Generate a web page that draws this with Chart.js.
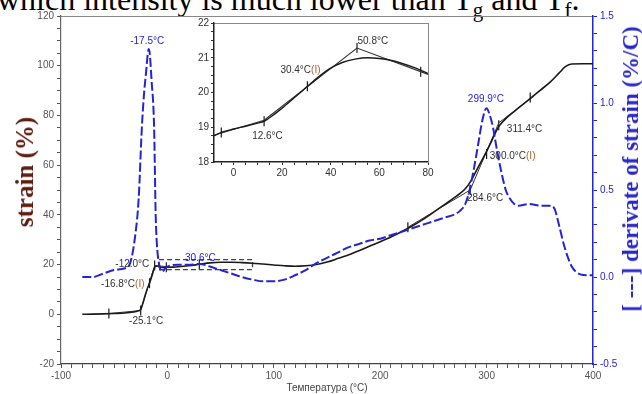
<!DOCTYPE html>
<html>
<head>
<meta charset="utf-8">
<script src="https://cdn.jsdelivr.net/npm/chart.js@4/dist/chart.umd.min.js"></script>
<style>
  html, body { margin: 0; padding: 0; background: #fff; }
  #wrap { position: relative; width: 642px; height: 394px; overflow: hidden; }
  #main { position: absolute; left: 0; top: 0; }
  #inset { position: absolute; left: 190px; top: 10px; }
  .cap { position: absolute; left: -3px; top: -19px; font-family: "Liberation Serif"; font-size: 32px; line-height: 36px; white-space: nowrap; color: #000; }
  .cap sub { font-size: 21px; line-height: 0; }
  .vt { position: absolute; font-family: "Liberation Serif"; font-weight: bold; white-space: nowrap; transform: translate(-50%, -50%) rotate(-90deg); }
</style>
</head>
<body>
<div id="wrap">
  <div class="cap">which intensity is much lower than T<sub>g</sub> and T<sub>f</sub>.</div>
  <canvas id="main" width="642" height="394"></canvas>
  <canvas id="inset" width="250" height="175"></canvas>
  <div class="vt" style="left:25px; top:172px; font-size:25px; color:#5c1d12;">strain (%)</div>
  <div class="vt" style="left:631px; top:169px; font-size:23px; color:#2828c8;">[ ---] derivate of strain (%/C)</div>
</div>
<script>
// strain curve (left axis)
const tempStrain = [-80, -70, -60, -50, -40, -32, -28, -25.1, -23, -21, -19, -16.8, -14.5, -12.5, -11, -9, -6, -3, 0,
  10, 20, 30, 40, 50, 60, 70, 80, 90, 100, 110, 120, 130, 140, 150, 160, 170, 180, 190, 200,
  210, 220, 230, 240, 250, 260, 270, 280, 285, 290, 295, 300, 305, 311.4, 320, 330, 340, 350, 360, 368, 374, 380, 390, 400];
const strain = [0, 0.05, 0.15, 0.3, 0.5, 0.9, 1.3, 2.0, 4.5, 7.5, 10.2, 12.5, 15.5, 18.3, 19.3, 19.4, 18.9, 18.8, 18.9,
  19.1, 19.5, 20.1, 20.7, 20.95, 20.95, 20.8, 20.55, 20.2, 19.85, 19.5, 19.3, 19.5, 20.0, 21.0, 22.4, 23.9, 25.6, 27.4, 29.2,
  31.1, 33.2, 35.5, 38.1, 41.0, 44.0, 47.0, 50.5, 53.5, 57.5, 61.5, 65.5, 70.0, 75.5, 79.5, 83.0, 86.5, 90.0, 93.5, 97.0, 99.6, 100.7, 100.8, 100.8];

// derivative curve (right axis)
const tempDeriv = [-80, -70, -60, -50, -40, -35, -30, -27, -24, -22, -20, -18.5, -17.5, -16.5, -15, -12.5, -11, -10, -8, -5, -2, 0,
  10, 20, 30, 40, 50, 60, 70, 80, 90, 100, 110, 120, 130, 140, 150, 160, 170, 180, 190, 200,
  210, 220, 230, 240, 250, 260, 270, 275, 280, 284, 288, 292, 296, 299.9, 303, 306, 310, 314, 318, 322, 326, 330,
  340, 350, 360, 364, 368, 372, 376, 380, 384, 388, 395, 400];
const deriv = [0.0, 0.0, 0.02, 0.04, 0.05, 0.08, 0.25, 0.45, 0.86, 1.05, 1.18, 1.28, 1.31, 1.28, 1.14, 0.86, 0.35, 0.2, 0.08, 0.03, 0.05, 0.06,
  0.07, 0.07, 0.075, 0.06, 0.04, 0.02, 0.0, -0.015, -0.025, -0.025, -0.015, 0.01, 0.04, 0.08, 0.11, 0.14, 0.17, 0.19, 0.21, 0.22,
  0.24, 0.26, 0.28, 0.3, 0.32, 0.34, 0.36, 0.38, 0.42, 0.5, 0.62, 0.76, 0.9, 0.97, 0.93, 0.86, 0.72, 0.6, 0.5, 0.45, 0.42, 0.41,
  0.42, 0.41, 0.41, 0.39, 0.3, 0.2, 0.12, 0.06, 0.03, 0.015, 0.01, 0.01];

// tangent construction lines
const tanLowT = [-55, -25.1, -12, -1];
const tanLowV = [0.3, 1.5, 19.6, 19.2];
const tanHighT = [226, 284.6, 311.4, 345];
const tanHighV = [35, 50, 77, 88];

// tick marks on the strain curve
const markT = [-55, -25.1, -16.8, -12, -1, 30, 226, 284.6, 300, 311.4, 341];
const markV = [0.3, 1.5, 12.5, 19.6, 18.9, 20.1, 35, 50, 64.5, 76, 87.2];

// zoom box shown in the inset
const boxT = [-8, 80, 80, -8, -8];
const boxV = [18, 18, 22, 22, 18];

// inset: strain between -8 and 80 °C
const insetT = [-8, -5, 0, 5, 10, 12.6, 15, 20, 25, 30, 35, 40, 45, 50, 55, 60, 65, 70, 75, 80];
const insetStrain = [18.75, 18.85, 18.95, 19.03, 19.12, 19.17, 19.28, 19.55, 19.85, 20.15, 20.45, 20.7, 20.87, 20.96, 21.0, 20.98, 20.92, 20.82, 20.7, 20.55];
const insetTanT = [-8, 12.6, 50.8, 80];
const insetTanV = [18.77, 19.2, 21.28, 20.52];
const insetMarkT = [-5, 12.6, 30.4, 50.8, 77];
const insetMarkV = [18.85, 19.17, 20.18, 21.28, 20.6];

// tick labels
const tempTicks = [-100, 0, 100, 200, 300, 400];
const strainTicks = [-20, 0, 20, 40, 60, 80, 100, 120];
const derivTicks = [-0.5, 0.0, 0.5, 1.0, 1.5];
const insetTempTicks = [0, 20, 40, 60, 80];
const insetStrainTicks = [18, 19, 20, 21, 22];

// temperature notes
const noteText = ['-17.5°C', '-12.0°C', '-16.8°C(I)', '-25.1°C', '30.6°C', '299.9°C', '311.4°C', '300.0°C(I)', '284.6°C'];
const noteT = [-19, -17, -21.5, -20, 31, 299.4, 319, 303, 281.5];
const noteV = [110, 20.2, 12.1, -3, 22.6, 86.4, 74.3, 63.4, 46.8];
const insetNoteText = ['12.6°C', '30.4°C(I)', '50.8°C'];
const insetNoteT = [14, 19.3, 51];
const insetNoteV = [18.75, 20.65, 21.48];

const BLUE = '#2424d6';
const INK = '#1a1a1a';
Chart.defaults.font.family = 'Liberation Sans';
Chart.defaults.font.size = 10;

const pts = (xs, ys) => xs.map((x, i) => ({x: x, y: ys[i]}));
const only = (list, fmt) => (v) => {
  const m = list.find(k => Math.abs(k - v) < 1e-6);
  return m === undefined ? '' : fmt(m);
};

function notes(id, xId, yId, texts, xs, ys, colors, aligns) {
  return {
    id: id,
    afterDatasetsDraw(chart) {
      const ctx = chart.ctx;
      const sx = chart.scales[xId], sy = chart.scales[yId];
      ctx.save();
      ctx.font = '10px "Liberation Sans"';
      ctx.textBaseline = 'middle';
      texts.forEach((t, i) => {
        const base = t.endsWith('(I)') ? t.slice(0, -3) : t;
        const tail = t.endsWith('(I)') ? '(I)' : '';
        const w = ctx.measureText(base).width + ctx.measureText(tail).width;
        let x = sx.getPixelForValue(xs[i]);
        if (aligns[i] === 'center') x -= w / 2;
        if (aligns[i] === 'right') x -= w;
        const y = sy.getPixelForValue(ys[i]);
        ctx.textAlign = 'left';
        ctx.fillStyle = colors[i];
        ctx.fillText(base, x, y);
        if (tail) {
          ctx.fillStyle = '#b0642c';
          ctx.fillText(tail, x + ctx.measureText(base).width, y);
        }
      });
      ctx.restore();
    }
  };
}

new Chart(document.getElementById('main'), {
  type: 'line',
  data: {
    datasets: [
      {data: pts(tempDeriv, deriv), yAxisID: 'y2', borderColor: BLUE, borderWidth: 2, borderDash: [9, 3],
       pointRadius: 0, cubicInterpolationMode: 'monotone'},
      {data: pts(tempStrain, strain), yAxisID: 'y', borderColor: INK, borderWidth: 1.6,
       pointRadius: 0, cubicInterpolationMode: 'monotone'},
      {data: pts(tanLowT, tanLowV), yAxisID: 'y', borderColor: '#333', borderWidth: 1, pointRadius: 0},
      {data: pts(tanHighT, tanHighV), yAxisID: 'y', borderColor: '#333', borderWidth: 1, pointRadius: 0},
      {data: pts(boxT, boxV), yAxisID: 'y', borderColor: '#444', borderWidth: 1.3, borderDash: [5, 3], pointRadius: 0},
      {data: pts(markT, markV), yAxisID: 'y', showLine: false, pointStyle: 'line', rotation: 90,
       pointRadius: 5, pointBorderColor: INK, pointBorderWidth: 1.2}
    ]
  },
  options: {
    responsive: false,
    animation: false,
    layout: {padding: 0},
    plugins: {legend: {display: false}, tooltip: {enabled: false}},
    scales: {
      x: {
        type: 'linear', position: 'bottom', min: -100, max: 400,
        afterFit: s => { s.height = 30; },
        grid: {drawOnChartArea: false, tickLength: 4, tickColor: '#555'},
        border: {color: '#444', width: 1.2},
        ticks: {stepSize: 10, autoSkip: false, maxRotation: 0, padding: 2, color: '#555',
                callback: only(tempTicks, v => String(v))},
        title: {display: true, text: 'Температура (°C)', color: '#444', font: {size: 10}, padding: {top: 0, bottom: 0}}
      },
      xTop: {
        type: 'linear', position: 'top', min: -100, max: 400,
        afterFit: s => { s.height = 16; },
        grid: {display: false},
        border: {color: '#888', width: 1},
        ticks: {display: false}
      },
      y: {
        type: 'linear', position: 'left', min: -20, max: 120,
        afterFit: s => { s.width = 61; },
        grid: {drawOnChartArea: false, tickLength: 4, tickColor: '#555'},
        border: {color: '#666', width: 1.2},
        ticks: {stepSize: 5, autoSkip: false, padding: 3, color: '#555',
                callback: only(strainTicks, v => String(v))}
      },
      y2: {
        type: 'linear', position: 'right', min: -0.5, max: 1.5,
        afterFit: s => { s.width = 49; },
        grid: {drawOnChartArea: false, tickLength: 4, tickColor: BLUE},
        border: {color: BLUE, width: 1.5},
        ticks: {stepSize: 0.1, autoSkip: false, padding: 3, color: BLUE,
                callback: only(derivTicks, v => v.toFixed(1))}
      }
    }
  },
  plugins: [notes('mainNotes', 'x', 'y', noteText, noteT, noteV,
    [BLUE, '#333', '#333', '#333', BLUE, BLUE, '#333', '#333', '#333'],
    ['center', 'right', 'right', 'center', 'center', 'center', 'left', 'left', 'left'])]
});

new Chart(document.getElementById('inset'), {
  type: 'line',
  data: {
    datasets: [
      {data: pts(insetT, insetStrain), borderColor: INK, borderWidth: 1.4, pointRadius: 0, cubicInterpolationMode: 'monotone'},
      {data: pts(insetTanT, insetTanV), borderColor: '#333', borderWidth: 1.1, pointRadius: 0},
      {data: pts(insetMarkT, insetMarkV), showLine: false, pointStyle: 'line', rotation: 90,
       pointRadius: 5, pointBorderColor: INK, pointBorderWidth: 1.2}
    ]
  },
  options: {
    responsive: false,
    animation: false,
    layout: {padding: 0},
    plugins: {legend: {display: false}, tooltip: {enabled: false}},
    scales: {
      x: {
        type: 'linear', position: 'bottom', min: -8, max: 80,
        afterFit: s => { s.height = 23; },
        grid: {drawOnChartArea: false, tickLength: 3, tickColor: '#333'},
        border: {color: '#222', width: 1.5},
        ticks: {stepSize: 5, includeBounds: false, autoSkip: false, maxRotation: 0, padding: 2, color: '#333',
                callback: only(insetTempTicks, v => String(v))}
      },
      xTop: {
        type: 'linear', position: 'top', min: -8, max: 80,
        afterFit: s => { s.height = 13; },
        grid: {display: false}, border: {color: '#888', width: 1}, ticks: {display: false}
      },
      y: {
        type: 'linear', position: 'left', min: 18, max: 22,
        afterFit: s => { s.width = 24; },
        grid: {drawOnChartArea: false, tickLength: 3, tickColor: '#333'},
        border: {color: '#222', width: 1.5},
        ticks: {stepSize: 0.25, autoSkip: false, padding: 2, color: '#333',
                callback: only(insetStrainTicks, v => String(v))}
      },
      yRight: {
        type: 'linear', position: 'right', min: 18, max: 22,
        afterFit: s => { s.width = 12; },
        grid: {display: false}, border: {color: '#888', width: 1}, ticks: {display: false}
      }
    }
  },
  plugins: [notes('insetNotes', 'x', 'y', insetNoteText, insetNoteT, insetNoteV,
    ['#333', '#333', '#333'], ['center', 'left', 'left'])]
});
</script>
</body>
</html>
